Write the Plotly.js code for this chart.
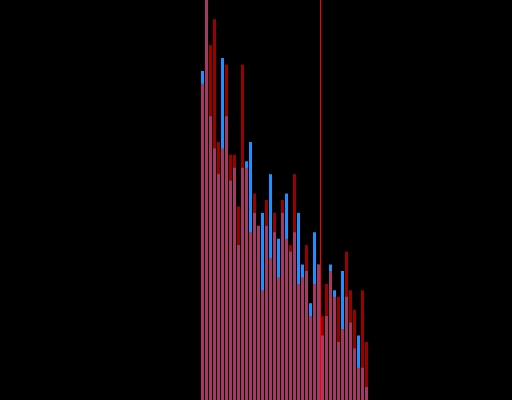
<!DOCTYPE html>
<html>
<head>
<meta charset="utf-8">
<script src="https://cdn.plot.ly/plotly-3.0.1.min.js"></script>
<style>html,body{margin:0;padding:0;background:#000;}#chart{width:512px;height:400px;}</style>
</head>
<body>
<div id="chart"></div>
<script>
const bins = [0,1,2,3,4,5,6,7,8,9,10,11,12,13,14,15,16,17,18,19,20,21,22,23,24,25,26,27,28,29,30,31,32,33,34,35,36,37,38,39,40,41];
const blueCounts = [51,62,44,39,35,53,44,34,36,24,36,37,40,29,27,29,27,35,26,25,29,32,23,26,29,21,20,15,26,21,10,13,21,17,9,20,16,12,8,10,5,2];
const redCounts  = [49,62,55,59,40,39,52,38,38,30,52,36,26,32,27,17,31,22,29,19,31,25,24,35,18,19,24,13,18,21,13,18,20,16,16,11,23,17,14,5,17,9];
const threshold = 29.5;

const data = [
  {type:'bar', x:bins, y:blueCounts, marker:{color:'rgb(30,144,255)', line:{width:0}}, opacity:1, hoverinfo:'skip'},
  {type:'bar', x:bins, y:redCounts, marker:{color:'rgb(255,0,0)', line:{width:0}}, opacity:0.6, hoverinfo:'skip'}
];
const layout = {
  width:512, height:400,
  margin:{l:0,r:0,t:0,b:0,pad:0},
  paper_bgcolor:'#000', plot_bgcolor:'#000',
  barmode:'overlay', bargap:0.25,
  showlegend:false,
  xaxis:{range:[-50.625,77.375], visible:false, showgrid:false, zeroline:false},
  yaxis:{range:[0,62], visible:false, showgrid:false, zeroline:false},
  shapes:[{type:'line', xref:'x', yref:'paper', x0:threshold, x1:threshold, y0:0, y1:1, line:{color:'rgb(255,0,0)', width:1}}]
};
Plotly.newPlot('chart', data, layout, {staticPlot:true, displayModeBar:false});
</script>
</body>
</html>
